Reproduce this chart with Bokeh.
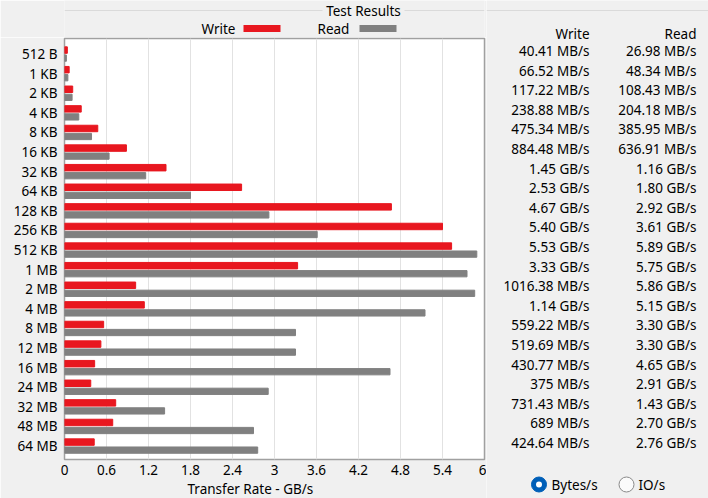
from bokeh.plotting import figure
from bokeh.layouts import row, column
from bokeh.models import (ColumnDataSource, Range1d, FixedTicker, Title)
from bokeh.core.properties import value
from bokeh.transform import dodge
from bokeh.embed import file_html
from bokeh.resources import INLINE

# ---------------- data ----------------
sizes = ["512 B", "1 KB", "2 KB", "4 KB", "8 KB", "16 KB", "32 KB", "64 KB",
         "128 KB", "256 KB", "512 KB", "1 MB", "2 MB", "4 MB", "8 MB", "12 MB",
         "16 MB", "24 MB", "32 MB", "48 MB", "64 MB"]
write_gbps = [0.04041, 0.06652, 0.11722, 0.23888, 0.47534, 0.88448, 1.45, 2.53,
              4.67, 5.40, 5.53, 3.33, 1.01638, 1.14, 0.55922, 0.51969, 0.43077,
              0.375, 0.73143, 0.689, 0.42464]
read_gbps = [0.02698, 0.04834, 0.10843, 0.20418, 0.38595, 0.63691, 1.16, 1.80,
             2.92, 3.61, 5.89, 5.75, 5.86, 5.15, 3.30, 3.30, 4.65, 2.91, 1.43,
             2.70, 2.76]
write_text = ["40.41 MB/s", "66.52 MB/s", "117.22 MB/s", "238.88 MB/s",
              "475.34 MB/s", "884.48 MB/s", "1.45 GB/s", "2.53 GB/s", "4.67 GB/s",
              "5.40 GB/s", "5.53 GB/s", "3.33 GB/s", "1016.38 MB/s", "1.14 GB/s",
              "559.22 MB/s", "519.69 MB/s", "430.77 MB/s", "375 MB/s",
              "731.43 MB/s", "689 MB/s", "424.64 MB/s"]
read_text = ["26.98 MB/s", "48.34 MB/s", "108.43 MB/s", "204.18 MB/s",
             "385.95 MB/s", "636.91 MB/s", "1.16 GB/s", "1.80 GB/s", "2.92 GB/s",
             "3.61 GB/s", "5.89 GB/s", "5.75 GB/s", "5.86 GB/s", "5.15 GB/s",
             "3.30 GB/s", "3.30 GB/s", "4.65 GB/s", "2.91 GB/s", "1.43 GB/s",
             "2.70 GB/s", "2.76 GB/s"]
x_ticks = [0, 0.6, 1.2, 1.8, 2.4, 3, 3.6, 4.2, 4.8, 5.4, 6]
x_tick_labels = ["0", "0.6", "1.2", "1.8", "2.4", "3", "3.6", "4.2", "4.8", "5.4", "6"]
series_names = ["Write", "Read"]
units_names = ["Bytes/s", "IO/s"]

# ---------------- styles / layout constants ----------------
FONT = "Noto Sans"
FS = "13.5px"
RED = "#e8171f"
GREY = "#808080"
BG = "#f0f0f0"
LINE = "#dadada"

W, H = 708, 498
SPLIT = 486            # canvas x where the table panel starts
TOP_H = 37             # height of the title/legend strip
FL, FR, FT, FB = 64, 484, 38, 459   # chart frame edges (canvas px)
ROW0 = 53.5            # canvas y of first row centre
ROWPX = 19.6           # px per row


def rowpos(cy):
    """canvas y (px) -> row units"""
    return (cy - ROW0) / ROWPX


rows = list(range(len(sizes)))
src = ColumnDataSource(dict(row=rows, size=sizes, write=write_gbps, read=read_gbps,
                            wtxt=write_text, rtxt=read_text))


def blank(width, height, x_range, y_range):
    f = figure(width=width, height=height, output_backend="svg",
               toolbar_location=None, x_range=x_range, y_range=y_range,
               x_axis_type=None, y_axis_type=None, min_border=0)
    f.min_border_left = f.min_border_right = 0
    f.min_border_top = f.min_border_bottom = 0
    f.grid.grid_line_color = None
    f.outline_line_color = None
    f.background_fill_color = BG
    f.border_fill_color = BG
    return f


def txt(f, x, y, s, align="left"):
    f.text(x=[x], y=[y], text=[s], text_font=value(FONT), text_font_size=FS,
           text_color="black", text_align=align, text_baseline="middle")


# ---------- top strip: title + legend (its frame lines up with the chart frame) ----------
top = blank(SPLIT, TOP_H, Range1d(FL, FR), Range1d(TOP_H, 0))
top.segment(x0=[FL, 404], y0=[10, 10], x1=[322, FR], y1=[10, 10],
            line_color=LINE, line_width=1)
txt(top, 363, 10.5, "Test Results", "center")
txt(top, 201, 28, series_names[0])
txt(top, 317, 28, series_names[1])
top.quad(left=[243, 359], right=[280, 396], top=[24.5, 24.5], bottom=[31.5, 31.5],
         fill_color=[RED, GREY], line_color=None)

# ---------- main chart ----------
main_h = H - TOP_H
p = figure(width=SPLIT, height=main_h, output_backend="svg", toolbar_location=None,
           x_range=Range1d(0, 6),
           y_range=Range1d(rowpos(FB), rowpos(FT)),
           min_border_left=FL, min_border_right=SPLIT - FR,
           min_border_top=FT - TOP_H, min_border_bottom=H - FB)
p.background_fill_color = "white"
p.border_fill_color = BG
p.outline_line_color = "#a0a0a0"
p.outline_line_width = 1.5

p.hbar(y=dodge("row", -0.2), left=0, right="write", height=0.33,
       color=RED, source=src)
p.hbar(y=dodge("row", 0.21), left=0, right="read", height=0.32,
       color=GREY, source=src)

p.ygrid.grid_line_color = None
p.xgrid.grid_line_color = "#e2e2e2"
p.xgrid.ticker = FixedTicker(ticks=x_ticks)

xa = p.xaxis[0]
xa.ticker = FixedTicker(ticks=x_ticks)
xa.major_label_overrides = {t: l for t, l in zip(x_ticks, x_tick_labels)}
ya = p.yaxis[0]
ya.ticker = FixedTicker(ticks=rows)
ya.major_label_overrides = {r: s for r, s in zip(rows, sizes)}
for ax in (xa, ya):
    ax.axis_line_color = None
    ax.major_tick_line_color = None
    ax.minor_tick_line_color = None
    ax.major_tick_out = 0
    ax.major_tick_in = 0
    ax.major_label_text_font = FONT
    ax.major_label_text_font_size = FS
    ax.major_label_text_color = "black"
xa.major_label_standoff = 5
ya.major_label_standoff = 7

p.add_layout(Title(text="Transfer Rate - GB/s", align="left", offset=123,
                   text_font=FONT, text_font_size=FS, text_font_style="normal",
                   text_color="black", standoff=0), "below")

# ---------- right table ----------
rt = blank(W - SPLIT, H, Range1d(SPLIT, W), Range1d(rowpos(H), rowpos(0)))
rt.segment(x0=[SPLIT], y0=[rowpos(10)], x1=[W], y1=[rowpos(10)],
           line_color=LINE, line_width=1)
txt(rt, 589, -1, series_names[0], "right")
txt(rt, 696, -1, series_names[1], "right")
for col, cx in (("wtxt", 589), ("rtxt", 696)):
    rt.text(x=cx, y=dodge("row", -0.15), text=col, source=src,
            text_font=value(FONT), text_font_size=FS, text_color="black",
            text_align="right", text_baseline="middle")

# radio buttons
ry = rowpos(484)
rt.scatter(x=[538.5], y=[ry], size=15, marker="circle",
           fill_color="#005fb8", line_color="#005fb8")
rt.scatter(x=[538.5], y=[ry], size=6, marker="circle",
           fill_color="white", line_color=None)
rt.scatter(x=[626], y=[ry], size=15, marker="circle",
           fill_color="#fbfbfb", line_color="#8a8a8a", line_width=1)
txt(rt, 551, ry, units_names[0])
txt(rt, 638, ry, units_names[1])

layout = row(column(top, p, spacing=0), rt, spacing=0)
open("out.html", "w").write(file_html(layout, INLINE))
